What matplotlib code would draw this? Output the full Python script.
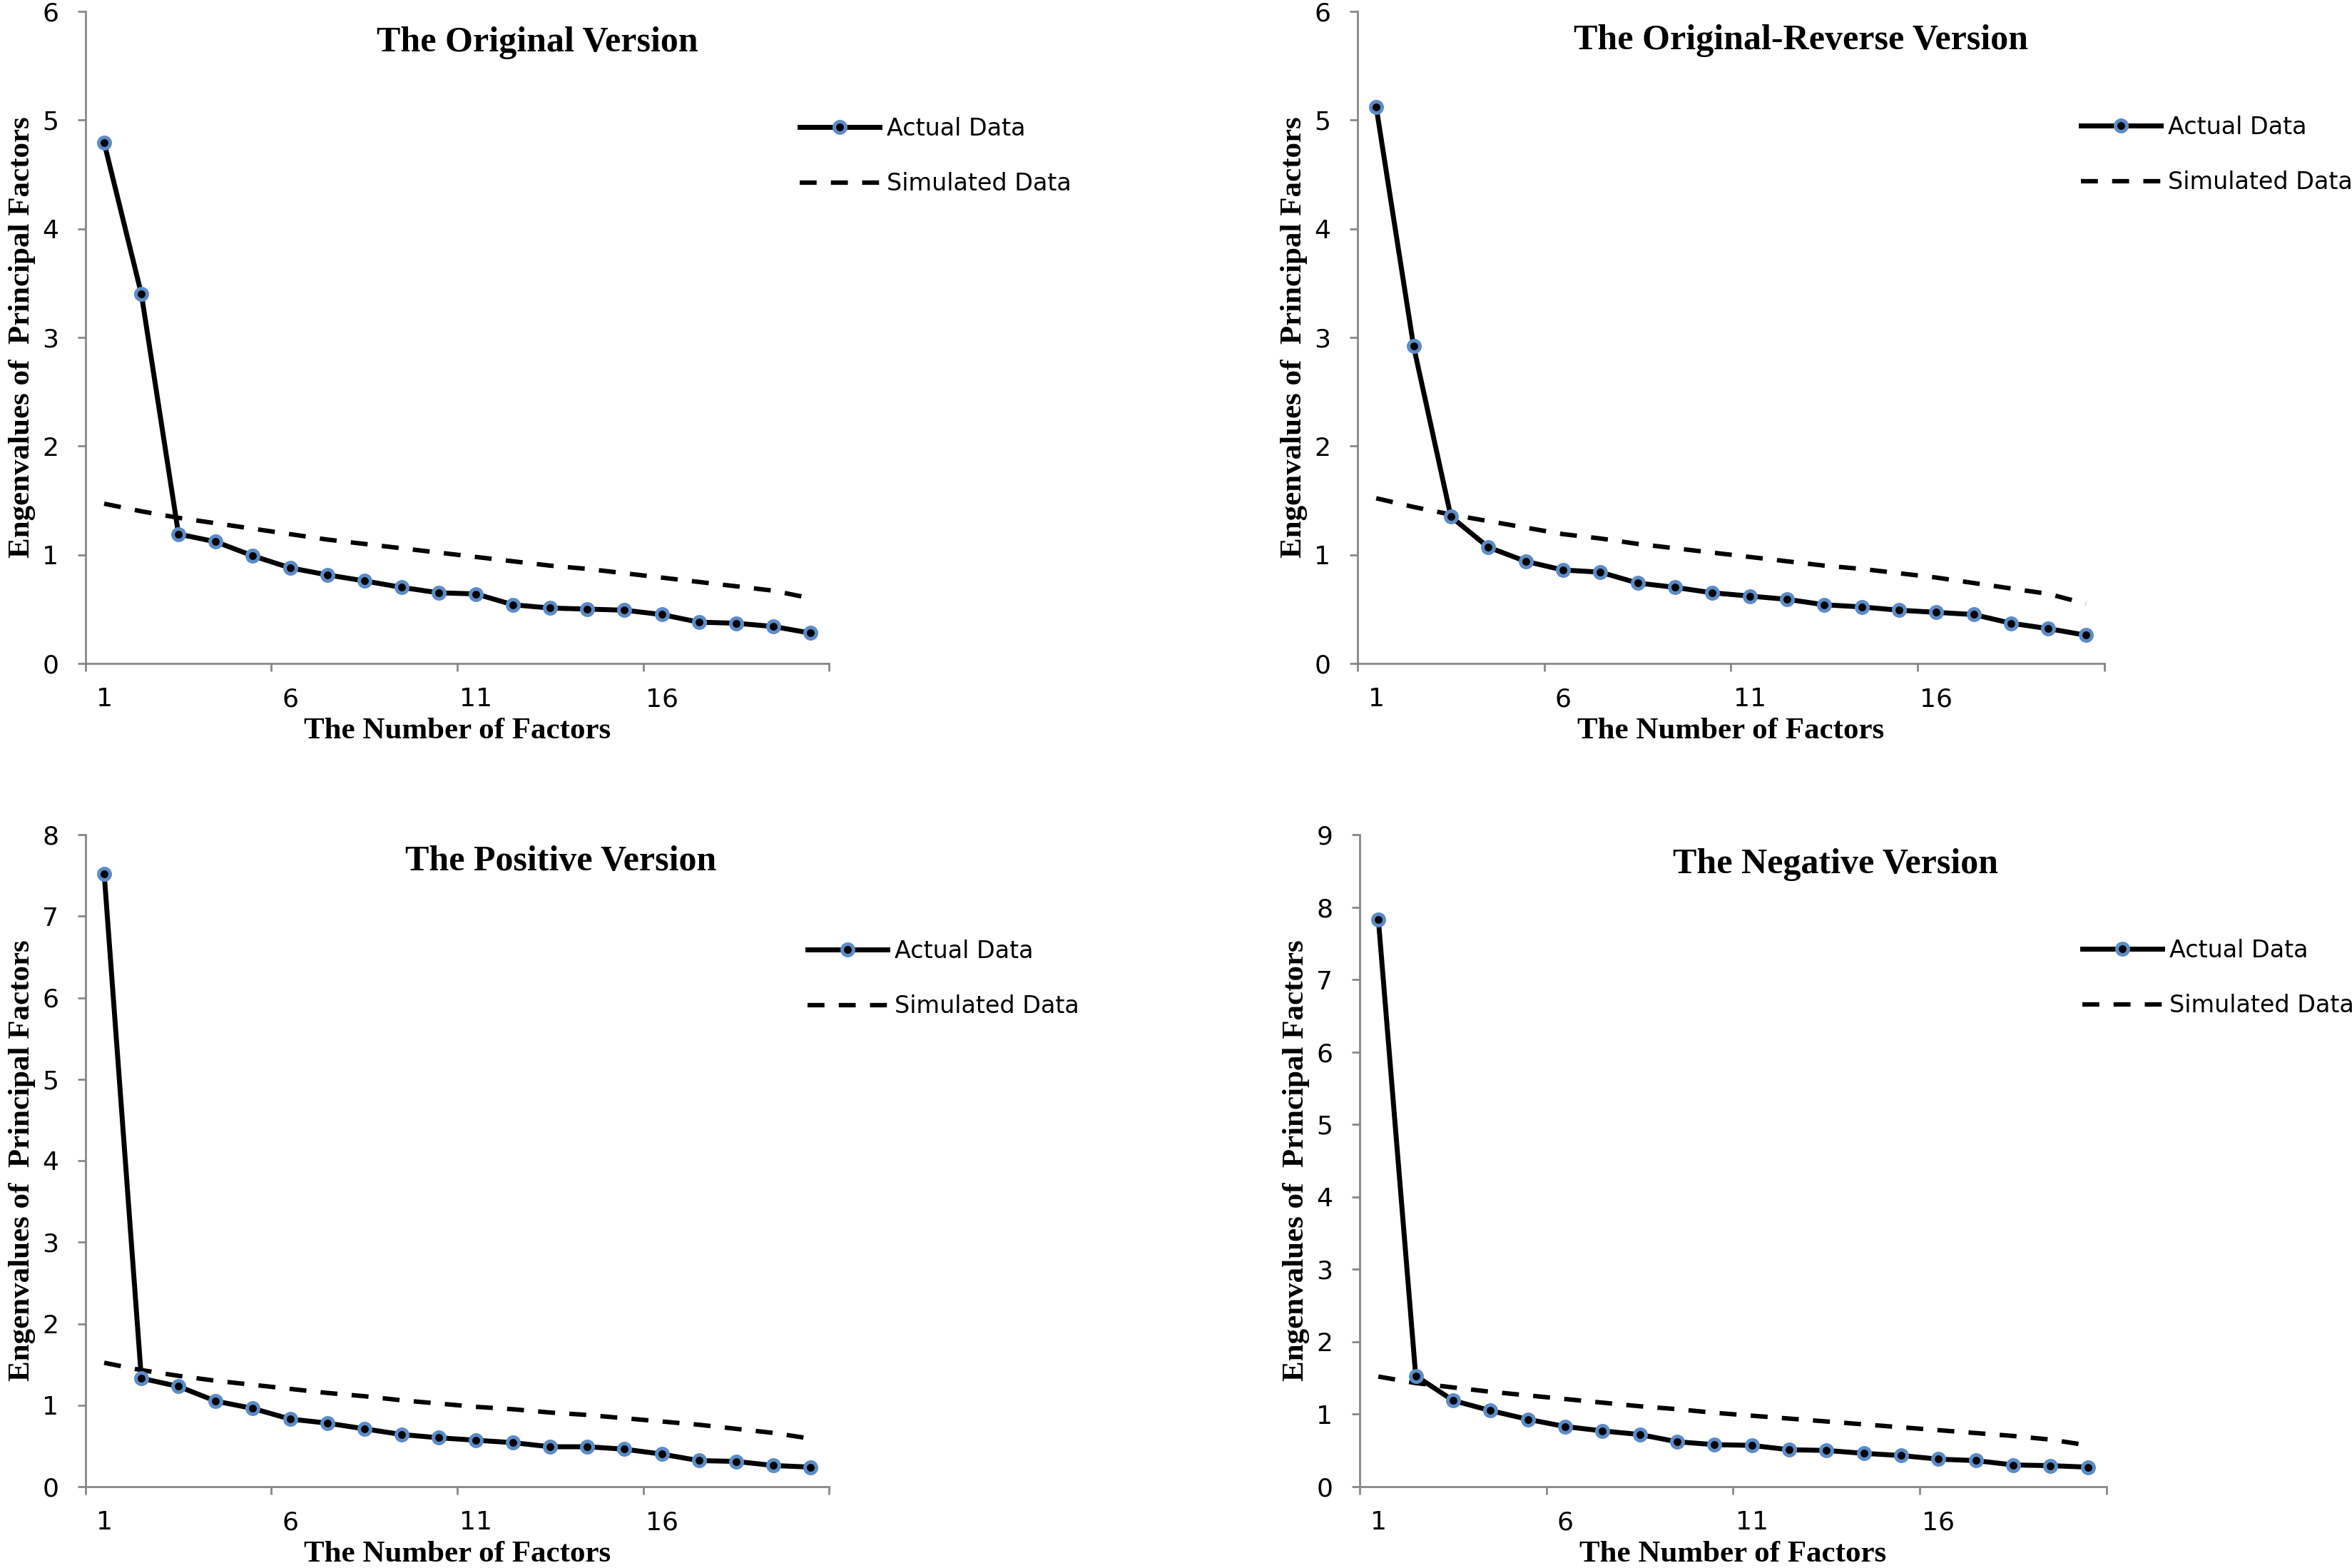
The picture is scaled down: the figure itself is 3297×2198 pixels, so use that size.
import matplotlib
matplotlib.use('Agg')
import matplotlib.pyplot as plt
import numpy as np

factors = np.arange(1, 21)

# eigenvalues
original_actual = [4.79, 3.40, 1.19, 1.12, 0.99, 0.88, 0.815, 0.76, 0.70, 0.65,
                   0.64, 0.54, 0.51, 0.50, 0.49, 0.45, 0.38, 0.37, 0.34, 0.28]
original_sim = [1.47, 1.40, 1.34, 1.29, 1.24, 1.19, 1.14, 1.10, 1.06, 1.02,
                0.98, 0.94, 0.90, 0.87, 0.83, 0.79, 0.75, 0.71, 0.67, 0.60]

reverse_actual = [5.12, 2.92, 1.35, 1.07, 0.94, 0.86, 0.84, 0.74, 0.70, 0.65,
                  0.62, 0.59, 0.54, 0.52, 0.49, 0.47, 0.45, 0.37, 0.32, 0.26]
reverse_sim = [1.52, 1.44, 1.37, 1.31, 1.25, 1.19, 1.15, 1.10, 1.06, 1.02,
               0.98, 0.94, 0.90, 0.87, 0.83, 0.79, 0.74, 0.69, 0.64, 0.55]

positive_actual = [7.52, 1.33, 1.23, 1.05, 0.96, 0.83, 0.78, 0.71, 0.64, 0.60,
                   0.57, 0.54, 0.49, 0.49, 0.46, 0.40, 0.32, 0.31, 0.26, 0.24]
positive_sim = [1.52, 1.43, 1.36, 1.30, 1.25, 1.20, 1.15, 1.11, 1.06, 1.02,
                0.98, 0.95, 0.91, 0.88, 0.84, 0.80, 0.76, 0.71, 0.66, 0.59]

negative_actual = [7.83, 1.53, 1.19, 1.05, 0.93, 0.83, 0.77, 0.72, 0.62, 0.58,
                   0.57, 0.51, 0.50, 0.46, 0.43, 0.38, 0.36, 0.30, 0.29, 0.27]
negative_sim = [1.52, 1.43, 1.37, 1.31, 1.26, 1.21, 1.16, 1.11, 1.07, 1.02,
                0.98, 0.94, 0.90, 0.86, 0.82, 0.78, 0.74, 0.70, 0.65, 0.57]

titles = ["The Original Version", "The Original-Reverse Version",
          "The Positive Version", "The Negative Version"]
ymaxes = [6, 6, 8, 9]
x_labels = [1, 6, 11, 16]

W, H = 3298, 2198
fig = plt.figure(figsize=(W / 100, H / 100), dpi=100)

def px_box(left, right, top, bottom):
    return [left / W, 1 - bottom / H, (right - left) / W, (bottom - top) / H]

# panel geometry in pixels: axes box, title centre, legend top-left corner
panels = [
    dict(box=px_box(120, 1162, 16, 930), title=(753, 60), leg=(1121, 164)),
    dict(box=px_box(1903, 2950, 16, 930), title=(2525, 57), leg=(2917, 162)),
    dict(box=px_box(120, 1162, 1170, 2084), title=(786, 1208), leg=(1132, 1317)),
    dict(box=px_box(1906, 2953, 1170, 2084), title=(2573, 1212), leg=(2919, 1316)),
]
series = [(original_actual, original_sim), (reverse_actual, reverse_sim),
          (positive_actual, positive_sim), (negative_actual, negative_sim)]

serif = 'Liberation Serif'
sans = 'DejaVu Sans'
grey = '#878787'

for i, p in enumerate(panels):
    ax = fig.add_axes(p['box'])
    actual, sim = series[i]
    ax.plot(factors, sim, color='black', lw=4.5, ls=(0, (3.8, 3.2)),
            label='Simulated Data', zorder=2)
    ax.plot(factors, actual, color='black', lw=5, marker='o', ms=11.5,
            mfc='black', mec='#5B8CC8', mew=3.6, label='Actual Data', zorder=3)

    ax.set_xlim(0.5, 20.5)
    ax.set_ylim(0, ymaxes[i])
    ax.set_yticks(range(0, ymaxes[i] + 1))
    ax.set_xticks([0.5, 5.5, 10.5, 15.5, 20.5])
    ax.set_xticklabels([])
    ax.set_xticks(x_labels, minor=True)
    ax.set_xticklabels([str(v) for v in x_labels], minor=True)

    for s in ['top', 'right']:
        ax.spines[s].set_visible(False)
    for s in ['left', 'bottom']:
        ax.spines[s].set_color(grey)
        ax.spines[s].set_linewidth(2)
    ax.tick_params(axis='both', which='major', direction='out', length=8,
                   width=2, color=grey)
    ax.tick_params(axis='x', which='minor', length=0, pad=24)
    ax.tick_params(axis='y', which='major', pad=19)
    for lab in ax.get_xticklabels(minor=True) + ax.get_yticklabels():
        lab.set_fontfamily(sans)
        lab.set_fontsize(26)

    ax.set_xlabel("The Number of Factors", fontfamily=serif, fontweight='bold',
                  fontsize=31)
    ax.xaxis.set_label_coords(0.5, -0.083)
    ax.set_ylabel("Engenvalues of  Principal Factors", fontfamily=serif,
                  fontweight='bold', fontsize=31)
    ax.yaxis.set_label_coords(-0.067, 0.5)

    tx, ty = p['title']
    fig.text(tx / W, 1 - ty / H, titles[i], fontfamily=serif, fontweight='bold',
             fontsize=36, ha='center', va='center')

    handles, labels = ax.get_legend_handles_labels()
    lx, ly = p['leg']
    ax.legend(handles[::-1], labels[::-1], loc='upper left',
              bbox_to_anchor=(lx / W, 1 - ly / H), bbox_transform=fig.transFigure,
              frameon=False, borderpad=0, borderaxespad=0, handlelength=3.36,
              handletextpad=0.3, labelspacing=1.33,
              prop={'family': sans, 'size': 24})

plt.savefig("out.png", dpi=100)
